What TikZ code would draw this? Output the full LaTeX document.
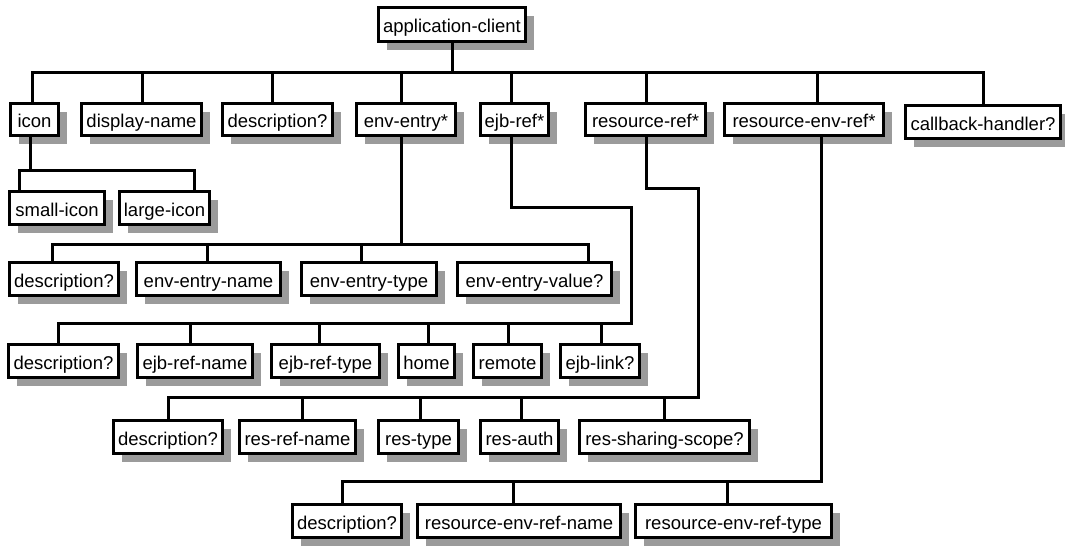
\documentclass[tikz,border=0pt]{standalone}
\usepackage{fontspec}
\setmainfont{Liberation Sans}
\usetikzlibrary{shadows}
\definecolor{shadowgray}{RGB}{155,155,155}
\begin{document}
\begin{tikzpicture}[x=1pt,y=-1pt,
  box/.style={draw, line width=3pt, fill=white, inner sep=0pt,
    text height=17pt, text depth=1pt,
    font=\fontsize{18.5}{22}\selectfont,
    drop shadow={shadow xshift=8pt, shadow yshift=-8pt, fill=shadowgray, opacity=1}},
  link/.style={line width=3pt, line cap=rect}]
\useasboundingbox (0,0) rectangle (1065,546);

% root
\node[box, minimum width=147pt, minimum height=34pt] (app) at (452,24.5) {application-client};

% level 1
\node[box, minimum width=48pt,  minimum height=32pt] (icon)      at (34.5,119.5) {icon};
\node[box, minimum width=120pt, minimum height=32pt] (dispname)  at (141.5,119.5) {display-name};
\node[box, minimum width=110pt, minimum height=32pt] (desc1)     at (277.5,119.5) {description?};
\node[box, minimum width=99pt,  minimum height=32pt] (enventry)  at (406,119.5) {env-entry*};
\node[box, minimum width=68pt,  minimum height=32pt] (ejbref)    at (514.5,119.5) {ejb-ref*};
\node[box, minimum width=120pt, minimum height=32pt] (resref)    at (645.5,119.5) {resource-ref*};
\node[box, minimum width=159pt, minimum height=32pt] (resenvref) at (804,119.5) {resource-env-ref*};
\node[box, minimum width=155pt, minimum height=33pt] (callback)  at (983,122) {callback-handler?};

% icon children
\node[box, minimum width=95pt, minimum height=33pt] (smallicon) at (57,208) {small-icon};
\node[box, minimum width=90pt, minimum height=33pt] (largeicon) at (164.5,208) {large-icon};

% env-entry children
\node[box, minimum width=109pt, minimum height=33pt] (desc2)   at (64,279) {description?};
\node[box, minimum width=144pt, minimum height=33pt] (eename)  at (208.5,279) {env-entry-name};
\node[box, minimum width=135pt, minimum height=33pt] (eetype)  at (369,279) {env-entry-type};
\node[box, minimum width=154pt, minimum height=33pt] (eevalue) at (534.5,279) {env-entry-value?};

% ejb-ref children
\node[box, minimum width=110pt, minimum height=33pt] (desc3)   at (63.5,361) {description?};
\node[box, minimum width=115pt, minimum height=33pt] (ejbname) at (195,361) {ejb-ref-name};
\node[box, minimum width=108pt, minimum height=33pt] (ejbtype) at (325.5,361) {ejb-ref-type};
\node[box, minimum width=56pt,  minimum height=33pt] (home)    at (426.5,361) {home};
\node[box, minimum width=68pt,  minimum height=33pt] (remote)  at (507.5,361) {remote};
\node[box, minimum width=79pt,  minimum height=33pt] (ejblink) at (600,361) {ejb-link?};

% resource-ref children
\node[box, minimum width=109pt, minimum height=33pt] (desc4)      at (168,437) {description?};
\node[box, minimum width=116pt, minimum height=33pt] (resrefname) at (297.5,437) {res-ref-name};
\node[box, minimum width=80pt,  minimum height=33pt] (restype)    at (418.5,437) {res-type};
\node[box, minimum width=78pt,  minimum height=33pt] (resauth)    at (519.5,437) {res-auth};
\node[box, minimum width=170pt, minimum height=33pt] (ressharing) at (664.5,437) {res-sharing-scope?};

% resource-env-ref children
\node[box, minimum width=109pt, minimum height=33pt] (desc5)    at (347,521) {description?};
\node[box, minimum width=203pt, minimum height=33pt] (renvname) at (519,521) {resource-env-ref-name};
\node[box, minimum width=196pt, minimum height=33pt] (renvtype) at (733.5,521) {resource-env-ref-type};

% ---------- connectors ----------
% root -> level 1
\coordinate (tA) at (452,72);
\coordinate (k-icon) at (32,72);
\coordinate (k-dispname) at (142,72);
\coordinate (k-desc1) at (272,72);
\coordinate (k-enventry) at (401,72);
\coordinate (k-ejbref) at (511,72);
\coordinate (k-resref) at (646,72);
\coordinate (k-resenvref) at (817,72);
\coordinate (k-callback) at (983,72);
\draw[link] (app.south -| tA) -- (tA);
\draw[link] (k-icon) -- (k-callback);
\foreach \n in {icon,dispname,desc1,enventry,ejbref,resref,resenvref,callback}
  \draw[link] (k-\n) -- (k-\n |- \n.north);

% icon -> children
\coordinate (b-icon) at (30,170);
\coordinate (k-smallicon) at (19,170);
\coordinate (k-largeicon) at (194,170);
\draw[link] (icon.south -| b-icon) -- (b-icon);
\draw[link] (k-smallicon) -- (k-largeicon);
\foreach \n in {smallicon,largeicon}
  \draw[link] (k-\n) -- (k-\n |- \n.north);

% env-entry -> children
\coordinate (b-env) at (401,244);
\coordinate (k-desc2) at (52,244);
\coordinate (k-eename) at (207,244);
\coordinate (k-eetype) at (361,244);
\coordinate (k-eevalue) at (588,244);
\draw[link] (enventry.south -| b-env) -- (b-env);
\draw[link] (k-desc2) -- (k-eevalue);
\foreach \n in {desc2,eename,eetype,eevalue}
  \draw[link] (k-\n) -- (k-\n |- \n.north);

% ejb-ref -> children
\coordinate (ejbt1) at (511,207);
\coordinate (ejbt2) at (631,207);
\coordinate (b-ejb) at (631,323);
\coordinate (k-desc3) at (58,323);
\coordinate (k-ejbname) at (190,323);
\coordinate (k-ejbtype) at (319,323);
\coordinate (k-home) at (428,323);
\coordinate (k-remote) at (508,323);
\coordinate (k-ejblink) at (601,323);
\draw[link] (ejbref.south -| ejbt1) -- (ejbt1) -- (ejbt2) -- (b-ejb);
\draw[link] (k-desc3) -- (b-ejb);
\foreach \n in {desc3,ejbname,ejbtype,home,remote,ejblink}
  \draw[link] (k-\n) -- (k-\n |- \n.north);

% resource-ref -> children
\coordinate (rest1) at (646,188);
\coordinate (rest2) at (698,188);
\coordinate (b-res) at (698,397);
\coordinate (k-desc4) at (168,397);
\coordinate (k-resrefname) at (302,397);
\coordinate (k-restype) at (420,397);
\coordinate (k-resauth) at (521,397);
\coordinate (k-ressharing) at (664,397);
\draw[link] (resref.south -| rest1) -- (rest1) -- (rest2) -- (b-res);
\draw[link] (k-desc4) -- (b-res);
\foreach \n in {desc4,resrefname,restype,resauth,ressharing}
  \draw[link] (k-\n) -- (k-\n |- \n.north);

% resource-env-ref -> children
\coordinate (b-renv) at (821,481);
\coordinate (k-desc5) at (342,481);
\coordinate (k-renvname) at (513,481);
\coordinate (k-renvtype) at (727,481);
\draw[link] (resenvref.south -| b-renv) -- (b-renv);
\draw[link] (k-desc5) -- (b-renv);
\foreach \n in {desc5,renvname,renvtype}
  \draw[link] (k-\n) -- (k-\n |- \n.north);
\end{tikzpicture}
\end{document}
